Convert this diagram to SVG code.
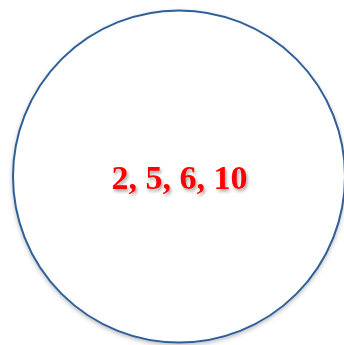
<svg xmlns="http://www.w3.org/2000/svg" width="344" height="345" viewBox="0 0 344 345">
  <defs>
    <filter id="shadow" x="-20%" y="-20%" width="140%" height="140%">
      <feDropShadow dx="1.5" dy="2.5" stdDeviation="1.5" flood-color="#000000" flood-opacity="0.35"/>
    </filter>
    <filter id="cshadow" x="-10%" y="-10%" width="120%" height="120%">
      <feDropShadow dx="0" dy="2" stdDeviation="2" flood-color="#000000" flood-opacity="0.25"/>
    </filter>
  </defs>
  <style>
    .circ { fill: #ffffff; stroke: #2f5f98; stroke-width: 2; }
    .lbl { font-family: "Liberation Serif", "DejaVu Serif", serif; font-weight: bold; font-size: 34px; fill: #ff0000; }
  </style>
  <rect width="344" height="345" fill="#ffffff"/>
  <g id="node-set">
    <circle class="circ" cx="179" cy="176.5" r="166" filter="url(#cshadow)"/>
    <text class="lbl" x="179.5" y="188.5" text-anchor="middle" filter="url(#shadow)">2, 5, 6, 10</text>
  </g>
  <g id="connectors"></g>
</svg>
